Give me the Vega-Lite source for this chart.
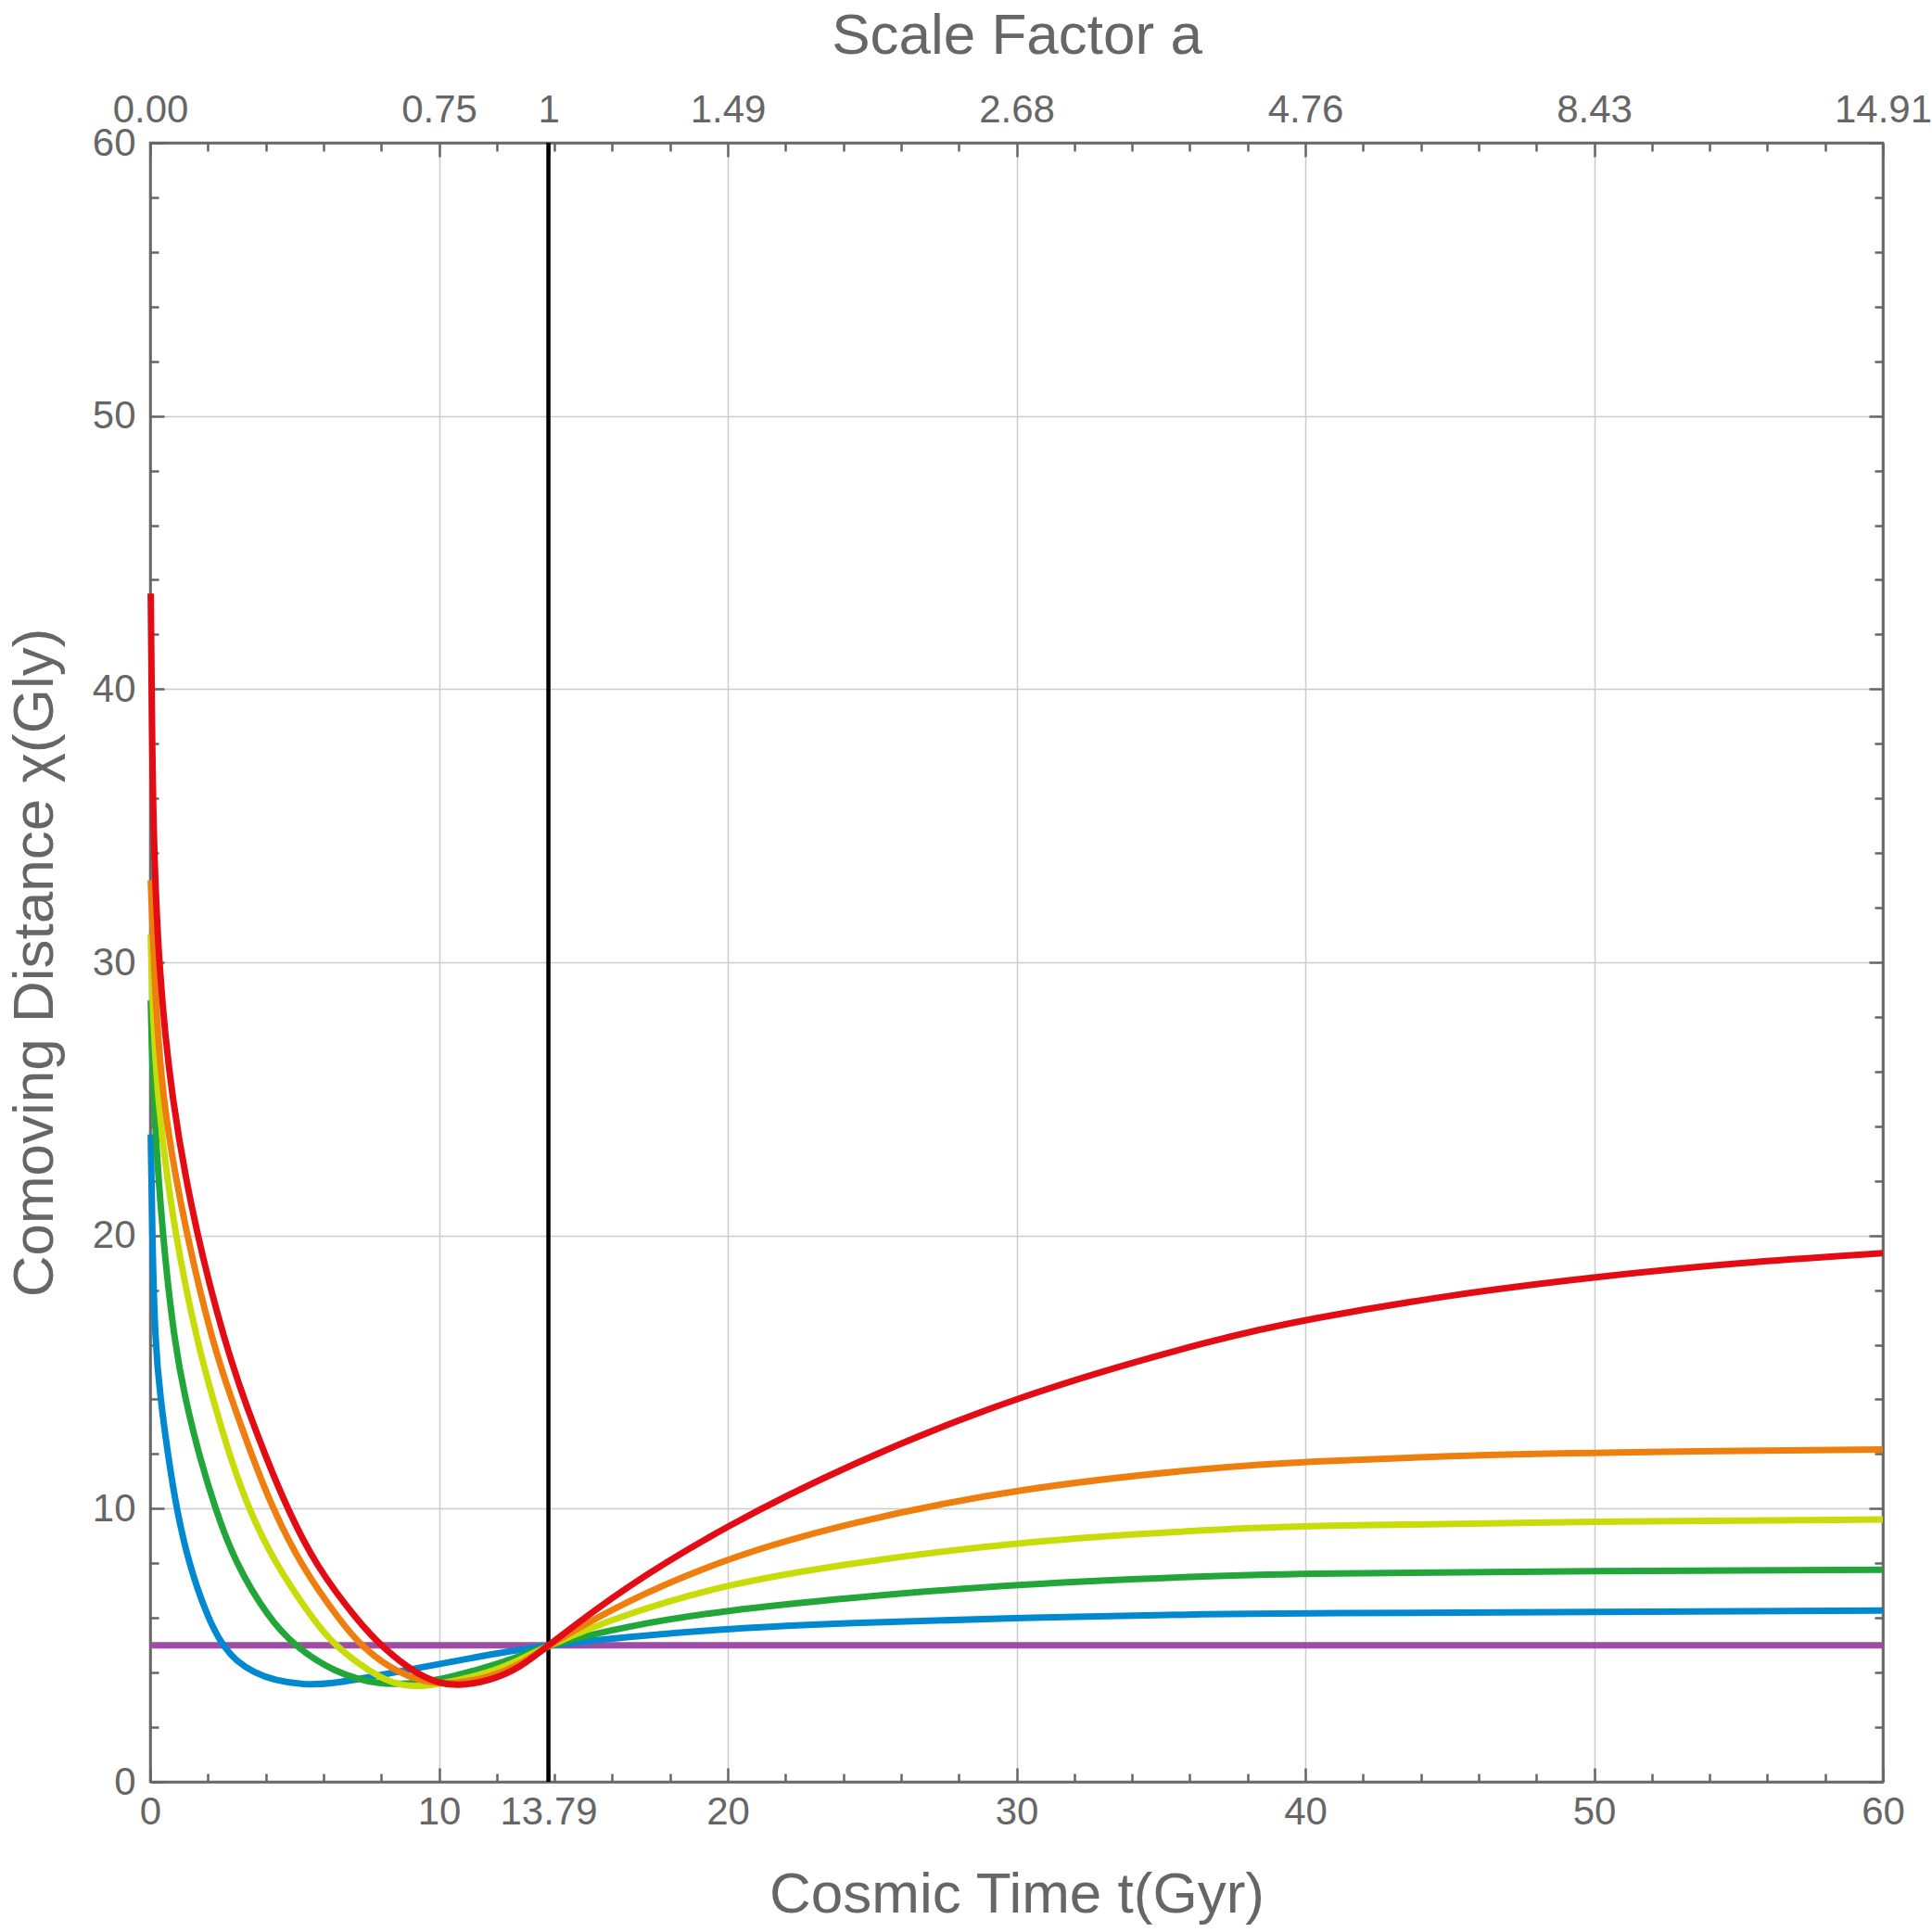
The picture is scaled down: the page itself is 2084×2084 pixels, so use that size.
{
  "$schema": "https://vega.github.io/schema/vega-lite/v6.json",
  "description": "Comoving distance against cosmic time, with the scale factor on the top axis.",
  "width": 1869,
  "height": 1768,
  "autosize": {"type": "none"},
  "padding": {"left": 162, "top": 154, "right": 53, "bottom": 162},
  "background": "white",
  "datasets": {
    "marker": [{"t": 13.79}],
    "curves": [
      {"s": "c1", "t": 0, "chi": 5}, {"s": "c1", "t": 60, "chi": 5},

      {"s": "c2", "t": 0.02, "chi": 23.7}, {"s": "c2", "t": 0.07, "chi": 20}, {"s": "c2", "t": 0.17, "chi": 16},
      {"s": "c2", "t": 0.36, "chi": 14}, {"s": "c2", "t": 0.61, "chi": 12}, {"s": "c2", "t": 0.91, "chi": 10},
      {"s": "c2", "t": 1.33, "chi": 8}, {"s": "c2", "t": 1.99, "chi": 6}, {"s": "c2", "t": 2.5, "chi": 5},
      {"s": "c2", "t": 3.0, "chi": 4.4}, {"s": "c2", "t": 3.6, "chi": 4.0}, {"s": "c2", "t": 4.3, "chi": 3.72},
      {"s": "c2", "t": 5.29, "chi": 3.54}, {"s": "c2", "t": 6.36, "chi": 3.6}, {"s": "c2", "t": 7.43, "chi": 3.8},
      {"s": "c2", "t": 10, "chi": 4.31}, {"s": "c2", "t": 11.7, "chi": 4.65}, {"s": "c2", "t": 12.8, "chi": 4.83},
      {"s": "c2", "t": 13.79, "chi": 5}, {"s": "c2", "t": 16.46, "chi": 5.3}, {"s": "c2", "t": 20, "chi": 5.61},
      {"s": "c2", "t": 24.05, "chi": 5.81}, {"s": "c2", "t": 30, "chi": 6.01}, {"s": "c2", "t": 37.2, "chi": 6.15},
      {"s": "c2", "t": 40, "chi": 6.17}, {"s": "c2", "t": 50, "chi": 6.22}, {"s": "c2", "t": 60, "chi": 6.27},

      {"s": "c3", "t": 0.02, "chi": 28.6}, {"s": "c3", "t": 0.1, "chi": 25}, {"s": "c3", "t": 0.42, "chi": 20},
      {"s": "c3", "t": 0.85, "chi": 16}, {"s": "c3", "t": 1.22, "chi": 14}, {"s": "c3", "t": 1.68, "chi": 12},
      {"s": "c3", "t": 2.25, "chi": 10}, {"s": "c3", "t": 2.95, "chi": 8}, {"s": "c3", "t": 4.1, "chi": 6},
      {"s": "c3", "t": 4.97, "chi": 5}, {"s": "c3", "t": 6.36, "chi": 4}, {"s": "c3", "t": 7.96, "chi": 3.54},
      {"s": "c3", "t": 9, "chi": 3.6}, {"s": "c3", "t": 10, "chi": 3.72}, {"s": "c3", "t": 11.7, "chi": 4.2},
      {"s": "c3", "t": 12.8, "chi": 4.6}, {"s": "c3", "t": 13.79, "chi": 5}, {"s": "c3", "t": 16.46, "chi": 5.7},
      {"s": "c3", "t": 20, "chi": 6.29}, {"s": "c3", "t": 24.05, "chi": 6.72}, {"s": "c3", "t": 30, "chi": 7.25},
      {"s": "c3", "t": 37.2, "chi": 7.56}, {"s": "c3", "t": 40, "chi": 7.62}, {"s": "c3", "t": 50, "chi": 7.72},
      {"s": "c3", "t": 60, "chi": 7.76},

      {"s": "c4", "t": 0.02, "chi": 31}, {"s": "c4", "t": 0.05, "chi": 29.5}, {"s": "c4", "t": 0.22, "chi": 25},
      {"s": "c4", "t": 0.85, "chi": 20}, {"s": "c4", "t": 1.65, "chi": 16}, {"s": "c4", "t": 2.18, "chi": 14},
      {"s": "c4", "t": 2.73, "chi": 12}, {"s": "c4", "t": 3.4, "chi": 10}, {"s": "c4", "t": 4.32, "chi": 8},
      {"s": "c4", "t": 5.6, "chi": 6}, {"s": "c4", "t": 6.36, "chi": 5}, {"s": "c4", "t": 7.64, "chi": 4},
      {"s": "c4", "t": 8.4, "chi": 3.6}, {"s": "c4", "t": 9.14, "chi": 3.48}, {"s": "c4", "t": 10, "chi": 3.56},
      {"s": "c4", "t": 11.7, "chi": 3.97}, {"s": "c4", "t": 12.8, "chi": 4.46}, {"s": "c4", "t": 13.79, "chi": 5},
      {"s": "c4", "t": 16.46, "chi": 6.15}, {"s": "c4", "t": 20, "chi": 7.25}, {"s": "c4", "t": 24.05, "chi": 7.98},
      {"s": "c4", "t": 30, "chi": 8.8}, {"s": "c4", "t": 37.2, "chi": 9.26}, {"s": "c4", "t": 40, "chi": 9.37},
      {"s": "c4", "t": 50, "chi": 9.54}, {"s": "c4", "t": 60, "chi": 9.6},

      {"s": "c5", "t": 0.02, "chi": 33}, {"s": "c5", "t": 0.12, "chi": 30}, {"s": "c5", "t": 0.38, "chi": 25},
      {"s": "c5", "t": 1.25, "chi": 20}, {"s": "c5", "t": 2.18, "chi": 16}, {"s": "c5", "t": 2.82, "chi": 14},
      {"s": "c5", "t": 3.5, "chi": 12}, {"s": "c5", "t": 4.22, "chi": 10.05}, {"s": "c5", "t": 5.23, "chi": 7.9},
      {"s": "c5", "t": 6.57, "chi": 5.9}, {"s": "c5", "t": 7.32, "chi": 4.95}, {"s": "c5", "t": 8.5, "chi": 4},
      {"s": "c5", "t": 10, "chi": 3.48}, {"s": "c5", "t": 11.7, "chi": 3.8}, {"s": "c5", "t": 12.8, "chi": 4.27},
      {"s": "c5", "t": 13.79, "chi": 5}, {"s": "c5", "t": 16.46, "chi": 6.62}, {"s": "c5", "t": 20, "chi": 8.21},
      {"s": "c5", "t": 24.05, "chi": 9.45}, {"s": "c5", "t": 30, "chi": 10.76}, {"s": "c5", "t": 37.2, "chi": 11.55},
      {"s": "c5", "t": 40, "chi": 11.72}, {"s": "c5", "t": 45, "chi": 11.94}, {"s": "c5", "t": 50, "chi": 12.06},
      {"s": "c5", "t": 60, "chi": 12.17},

      {"s": "c6", "t": 0.02, "chi": 43.5}, {"s": "c6", "t": 0.05, "chi": 40}, {"s": "c6", "t": 0.1, "chi": 35},
      {"s": "c6", "t": 0.28, "chi": 30}, {"s": "c6", "t": 0.72, "chi": 25}, {"s": "c6", "t": 1.6, "chi": 20},
      {"s": "c6", "t": 2.61, "chi": 16}, {"s": "c6", "t": 3.25, "chi": 14}, {"s": "c6", "t": 4.0, "chi": 11.9},
      {"s": "c6", "t": 4.75, "chi": 10}, {"s": "c6", "t": 5.71, "chi": 7.95}, {"s": "c6", "t": 7.21, "chi": 5.85},
      {"s": "c6", "t": 8.07, "chi": 4.9}, {"s": "c6", "t": 9.14, "chi": 4}, {"s": "c6", "t": 10, "chi": 3.6},
      {"s": "c6", "t": 10.64, "chi": 3.51}, {"s": "c6", "t": 11.7, "chi": 3.68}, {"s": "c6", "t": 12.8, "chi": 4.16},
      {"s": "c6", "t": 13.79, "chi": 5}, {"s": "c6", "t": 16.46, "chi": 7.15}, {"s": "c6", "t": 20, "chi": 9.4},
      {"s": "c6", "t": 24.05, "chi": 11.55}, {"s": "c6", "t": 30, "chi": 14.15}, {"s": "c6", "t": 37.2, "chi": 16.3},
      {"s": "c6", "t": 40, "chi": 16.92}, {"s": "c6", "t": 45, "chi": 17.83}, {"s": "c6", "t": 50, "chi": 18.48},
      {"s": "c6", "t": 55, "chi": 19.01}, {"s": "c6", "t": 60, "chi": 19.35}
    ]
  },
  "layer": [
    {
      "data": {"name": "marker"},
      "mark": {"type": "rule", "color": "black", "strokeWidth": 4.5},
      "encoding": {
        "x": {
          "field": "t", "type": "quantitative",
          "scale": {"domain": [0, 60], "nice": false, "zero": false},
          "axis": {
            "orient": "top",
            "title": "Scale Factor a",
            "titlePadding": 21,
            "values": [0, 2, 4, 6, 8, 10, 12, 13.79, 14, 16, 18, 20, 22, 24, 26, 28, 30, 32, 34, 36, 38, 40, 42, 44, 46, 48, 50, 52, 54, 56, 58, 60],
            "labelExpr": "datum.value == 0 ? '0.00' : datum.value == 10 ? '0.75' : datum.value == 13.79 ? '1' : datum.value == 20 ? '1.49' : datum.value == 30 ? '2.68' : datum.value == 40 ? '4.76' : datum.value == 50 ? '8.43' : datum.value == 60 ? '14.91' : ''",
            "tickSize": {"condition": {"test": "datum.value % 10 == 0 || datum.value == 13.79", "value": -15}, "value": -9},
            "labelPadding": 29,
            "grid": false
          }
        }
      }
    },
    {
      "data": {"name": "curves"},
      "mark": {"type": "line", "strokeWidth": 7, "interpolate": "basis"},
      "encoding": {
        "x": {
          "field": "t", "type": "quantitative",
          "scale": {"domain": [0, 60], "nice": false, "zero": false},
          "axis": {
            "orient": "bottom",
            "title": "Cosmic Time t(Gyr)",
            "titlePadding": 32,
            "values": [0, 2, 4, 6, 8, 10, 12, 13.79, 14, 16, 18, 20, 22, 24, 26, 28, 30, 32, 34, 36, 38, 40, 42, 44, 46, 48, 50, 52, 54, 56, 58, 60],
            "labelExpr": "datum.value % 10 == 0 ? format(datum.value, 'd') : datum.value == 13.79 ? '13.79' : ''",
            "tickSize": {"condition": {"test": "datum.value % 10 == 0 || datum.value == 13.79", "value": -15}, "value": -9},
            "labelPadding": 27,
            "grid": true,
            "gridOpacity": {"condition": {"test": "datum.value % 10 == 0", "value": 1}, "value": 0}
          }
        },
        "y": {
          "field": "chi", "type": "quantitative",
          "scale": {"domain": [0, 60], "nice": false, "zero": false},
          "axis": {
            "orient": "left",
            "title": "Comoving Distance χ(Gly)",
            "titlePadding": 30,
            "values": [0, 2, 4, 6, 8, 10, 12, 14, 16, 18, 20, 22, 24, 26, 28, 30, 32, 34, 36, 38, 40, 42, 44, 46, 48, 50, 52, 54, 56, 58, 60],
            "labelExpr": "datum.value % 10 == 0 ? format(datum.value, 'd') : ''",
            "tickSize": {"condition": {"test": "datum.value % 10 == 0", "value": -15}, "value": -9},
            "labelPadding": 31,
            "grid": true,
            "gridOpacity": {"condition": {"test": "datum.value % 10 == 0", "value": 1}, "value": 0}
          }
        },
        "color": {
          "field": "s", "type": "nominal", "legend": null,
          "scale": {
            "domain": ["c1", "c2", "c3", "c4", "c5", "c6"],
            "range": ["#9f4da4", "#0089d1", "#22a63a", "#c8dc0a", "#ee7f0e", "#e40c14"]
          }
        }
      }
    },
    {
      "data": {"name": "curves"},
      "mark": {"type": "point", "opacity": 0},
      "encoding": {
        "x": {"field": "t", "type": "quantitative", "axis": null},
        "y": {
          "field": "chi", "type": "quantitative",
          "axis": {
            "orient": "right",
            "title": null,
            "labels": false,
            "values": [0, 2, 4, 6, 8, 10, 12, 14, 16, 18, 20, 22, 24, 26, 28, 30, 32, 34, 36, 38, 40, 42, 44, 46, 48, 50, 52, 54, 56, 58, 60],
            "tickSize": {"condition": {"test": "datum.value % 10 == 0", "value": -15}, "value": -9},
            "grid": false
          }
        }
      }
    }
  ],
  "resolve": {"axis": {"x": "independent", "y": "independent"}},
  "config": {
    "view": {"stroke": "#666666", "strokeWidth": 2.5},
    "axis": {
      "labelFont": "Liberation Sans",
      "titleFont": "Liberation Sans",
      "labelColor": "#666666",
      "titleColor": "#666666",
      "labelFontSize": 42,
      "titleFontSize": 62,
      "titleFontWeight": "normal",
      "labelFlush": false,
      "labelOverlap": false,
      "domainColor": "#666666",
      "domainWidth": 2.5,
      "tickColor": "#666666",
      "tickWidth": 2.5,
      "gridColor": "#cccccc",
      "gridWidth": 1.5
    }
  }
}
